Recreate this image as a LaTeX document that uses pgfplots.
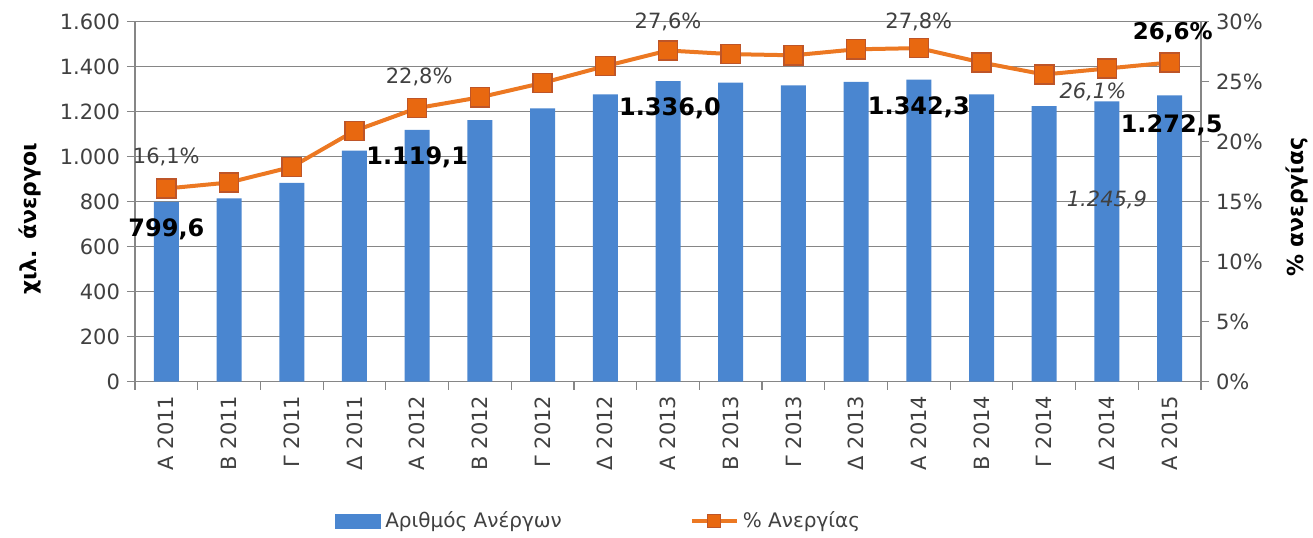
\documentclass[border=0pt]{standalone}
\usepackage{fontspec}
\setmainfont{DejaVu Sans}
\usepackage{pgfplots}
\usepackage{pgfplotstable}
\pgfplotsset{compat=1.18}
\definecolor{barblue}{RGB}{74,134,208}
\definecolor{lineor}{RGB}{236,120,34}
\definecolor{markor}{RGB}{232,104,16}
\definecolor{markedge}{RGB}{190,85,40}
\definecolor{gridc}{RGB}{134,134,134}
\definecolor{txt}{RGB}{64,64,64}

\pgfplotstableread{
x bars pct
0 799.6 16.1
1 815 16.6
2 884 17.9
3 1027 20.9
4 1119.1 22.8
5 1163 23.7
6 1215 24.9
7 1277 26.3
8 1336.0 27.6
9 1329 27.3
10 1317 27.2
11 1333 27.7
12 1342.3 27.8
13 1277 26.6
14 1225 25.6
15 1245.9 26.1
16 1272.5 26.6
}\datatable

\tikzset{
 nlab/.style={font=\fontsize{10.5}{12}\selectfont, text=txt, inner sep=0pt},
 blab/.style={font=\bfseries\fontsize{12}{14}\selectfont, text=black, inner sep=0pt},
}

\begin{document}
\begin{tikzpicture}[font=\fontsize{10.5}{12}\selectfont]
\pgfplotsset{
 common/.style={scale only axis, width=533pt, height=180pt, xmin=-0.5, xmax=16.5,
   clip=false,
   /pgf/number format/assume math mode=true,
   tick label style={font=\fontsize{10.5}{12}\selectfont, text=txt},
   axis line style={gridc, line width=0.6pt},
   tick style={gridc, line width=0.6pt},
   tick align=outside,
   major tick length=4pt,
 },
}
\begin{axis}[common,
  ybar, bar width=12.5pt,
  ymin=0, ymax=1600, ytick={0,200,...,1600},
  yticklabel style={/pgf/number format/1000 sep={.}},
  scaled y ticks=false,
  ymajorgrids, grid style={gridc, line width=0.6pt},
  axis x line*=bottom, axis y line*=left,
  xtick={-0.5,0.5,1.5,2.5,3.5,4.5,5.5,6.5,7.5,8.5,9.5,10.5,11.5,12.5,13.5,14.5,15.5,16.5},
  xticklabel={\mbox{}},
  extra x ticks={0,1,2,3,4,5,6,7,8,9,10,11,12,13,14,15,16},
  extra x tick labels={Α 2011, Β 2011, Γ 2011, Δ 2011, Α 2012, Β 2012, Γ 2012, Δ 2012, Α 2013, Β 2013, Γ 2013, Δ 2013, Α 2014, Β 2014, Γ 2014, Δ 2014, Α 2015},
  extra x tick style={major tick length=0pt, xticklabel style={rotate=90, anchor=east, xshift=-3.5pt}},
  ylabel={χιλ. άνεργοι},
  every axis y label/.style={at={(rel axis cs:0,0.452)}, xshift=-52.5pt, rotate=90, anchor=center, font=\bfseries\fontsize{11}{13}\selectfont},
]
\coordinate (o) at (rel axis cs:0,0);
\addplot[fill=barblue, draw=none, bar shift=0pt] table[x=x,y=bars]{\datatable};
\node[blab, yshift=-14pt] at (axis cs:0,799.6) {799,6};
\node[blab, yshift=-13.5pt] at (axis cs:4,1119.1) {1.119,1};
\node[blab, yshift=-13.5pt, xshift=1pt] at (axis cs:8,1336.0) {1.336,0};
\node[blab, yshift=-14pt] at (axis cs:12,1342.3) {1.342,3};
\node[nlab, font=\itshape\fontsize{10.5}{12}\selectfont, yshift=-49.3pt] at (axis cs:15,1245.9) {1.245,9};
\end{axis}
\begin{axis}[common,
  ymin=0, ymax=30, ytick={0,5,...,30},
  yticklabel={\pgfmathprintnumber{\tick}\%},
  axis y line*=right, axis x line=none, xtick=\empty,
  ylabel={\% ανεργίας},
  every axis y label/.style={at={(rel axis cs:1,0.485)}, xshift=48pt, rotate=90, anchor=center, font=\bfseries\fontsize{11}{13}\selectfont},
  legend style={at={(rel axis cs:0.436,0)}, anchor=center, yshift=-69.7pt, draw=none, fill=none,
     font=\fontsize{10}{12}\selectfont, text=txt, legend columns=2,
     /tikz/every even column/.append style={column sep=62pt}},
]
\addlegendimage{legend image code/.code={\fill[barblue] (0pt,-3.5pt) rectangle (22.5pt,3.5pt);}}
\addlegendentry{Αριθμός Ανέργων}
\addplot[lineor, line width=2pt, mark=square*, mark size=4.8pt,
  mark options={fill=markor, draw=markedge, line width=0.7pt},
  legend image code/.code={\draw[lineor,line width=2pt] (0pt,0pt) -- (22.5pt,0pt);
     \draw[fill=markor,draw=markedge,line width=0.6pt] (8pt,-3.25pt) rectangle (14.5pt,3.25pt);}]
  table[x=x,y=pct]{\datatable};
\addlegendentry{\% Ανεργίας}
\node[nlab, yshift=15.7pt] at (axis cs:0,16.1) {16,1\%};
\node[nlab, yshift=15.5pt, xshift=1pt] at (axis cs:4,22.8) {22,8\%};
\node[nlab, yshift=14.2pt] at (axis cs:8,27.6) {27,6\%};
\node[nlab, yshift=13pt] at (axis cs:12,27.8) {27,8\%};
\node[nlab, font=\itshape\fontsize{10.5}{12}\selectfont, yshift=-11.8pt, xshift=-7pt] at (axis cs:15,26.1) {26,1\%};
\node[blab, font=\bfseries\fontsize{11.5}{13}\selectfont, yshift=15.2pt, xshift=1.5pt] at (axis cs:16,26.6) {26,6\%};
\node[blab, yshift=-15pt, xshift=1pt] at (axis cs:16,23.86) {1.272,5};
\end{axis}
\pgfresetboundingbox
\path (o) ++(-67.5pt,-77.65pt) rectangle ++(656.5pt,268.5pt);
\end{tikzpicture}
\end{document}
